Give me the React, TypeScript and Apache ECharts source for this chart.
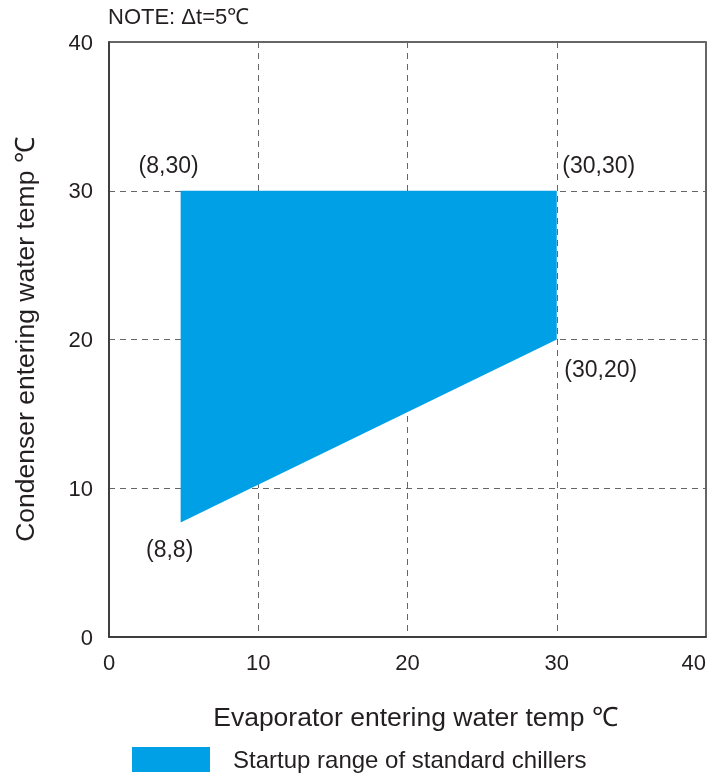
import React, { useEffect, useRef } from "react";
import * as echarts from "echarts";

// Region boundary (as drawn)
const regionX = [4.8, 30, 30, 4.8];
const regionY = [30, 30, 20, 7.7];

// Corner annotations
const cornerLabels = ["(8,30)", "(30,30)", "(30,20)", "(8,8)"];
const cornerX = [4.8, 30, 30, 4.8];
const cornerY = [30, 30, 20, 7.7];
const cornerOffsets = [
  [-12, -26],
  [42, -26],
  [44, 29],
  [-11, 27],
];

const xTicks = [0, 10, 20, 30, 40];
const yTicks = [0, 10, 20, 30, 40];

const seriesName = "Startup range of standard chillers";
const xTitle = "Evaporator entering water temp ℃";
const yTitle = "Condenser entering water temp ℃";
const noteText = "NOTE: Δt=5℃";

const FONT = "Liberation Sans, Arial, sans-serif";
const TEXT = "#231f20";
const FILL = "#00a0e6";

export default function App() {
  const ref = useRef<HTMLDivElement>(null);
  useEffect(() => {
    if (!ref.current) return;
    const chart = echarts.init(ref.current, null, { renderer: "svg" });
    const option: any = {
      animation: false,
      textStyle: { fontFamily: FONT },
      grid: {
        left: 109,
        right: 10,
        top: 42,
        bottom: 136,
        containLabel: false,
        outerBoundsMode: "none",
        show: true,
        borderColor: "#333",
        borderWidth: 1.5,
        backgroundColor: "transparent",
      },
      xAxis: {
        type: "value",
        min: xTicks[0],
        max: xTicks[xTicks.length - 1],
        interval: 10,
        name: xTitle,
        nameLocation: "middle",
        nameGap: 66,
        nameTextStyle: { fontSize: 26.5, color: TEXT, fontFamily: FONT, padding: [0, 0, 0, 16] },
        axisLine: { show: true, lineStyle: { color: "#333", width: 1.5 } },
        axisTick: { show: false },
        axisLabel: { fontSize: 22, color: TEXT, margin: 14, fontFamily: FONT, alignMaxLabel: "right" },
        splitLine: { show: true, lineStyle: { color: "#666", type: [6, 5], width: 1 } },
      },
      yAxis: {
        type: "value",
        min: yTicks[0],
        max: yTicks[yTicks.length - 1],
        interval: 10,
        name: yTitle,
        nameLocation: "middle",
        nameGap: 71,
        nameTextStyle: { fontSize: 26.5, color: TEXT, fontFamily: FONT },
        axisLine: { show: true, lineStyle: { color: "#333", width: 1.5 } },
        axisTick: { show: false },
        axisLabel: { fontSize: 22, color: TEXT, margin: 16, fontFamily: FONT },
        splitLine: { show: true, lineStyle: { color: "#666", type: [6, 5], width: 1 } },
      },
      legend: {
        left: 132,
        top: 747,
        padding: 0,
        itemWidth: 78,
        itemHeight: 25,
        data: [{ name: seriesName, icon: "rect" }],
        textStyle: { fontSize: 24, color: TEXT, fontFamily: FONT, padding: [0, 0, 0, 18] },
      },
      graphic: [
        {
          type: "text",
          left: 108,
          top: 5,
          style: { text: noteText, fontSize: 22, fill: TEXT, fontFamily: FONT },
        },
      ],
      series: [
        {
          name: seriesName,
          type: "custom",
          itemStyle: { color: FILL },
          data: [[regionX[0], regionY[0]]],
          renderItem: (params: any, api: any) => {
            const pts = regionX.map((x, i) => api.coord([x, regionY[i]]));
            return {
              type: "polygon",
              shape: { points: pts },
              style: { fill: FILL },
            };
          },
          z: 1,
        },
        {
          name: "labels",
          type: "scatter",
          symbolSize: 0,
          silent: true,
          itemStyle: { opacity: 1 },
          data: cornerLabels.map((t, i) => ({
            value: [cornerX[i], cornerY[i]],
            label: {
              show: true,
              formatter: t,
              position: "inside",
              offset: cornerOffsets[i],
              fontSize: 23,
              color: TEXT,
              opacity: 1,
              fontFamily: FONT,
            },
          })),
          z: 5,
        },
      ],
    };
    chart.setOption(option);
    return () => chart.dispose();
  }, []);
  return (
    <div
      ref={ref}
      style={{ position: "fixed", left: 0, top: 0, width: 716, height: 773 }}
    />
  );
}
